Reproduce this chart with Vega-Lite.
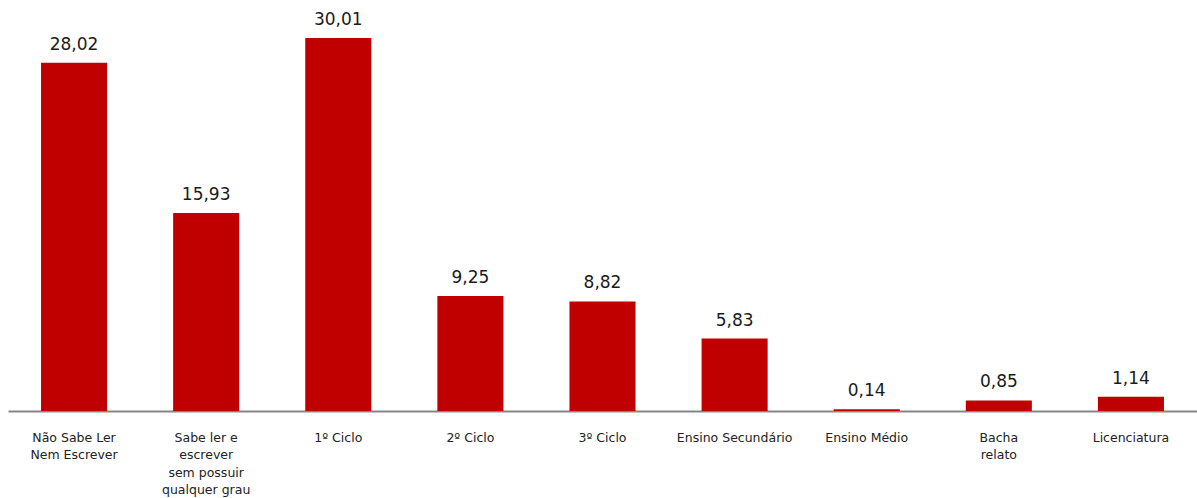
{
  "$schema": "https://vega.github.io/schema/vega-lite/v6.json",
  "width": 1189,
  "height": 411,
  "autosize": {"type": "none"},
  "padding": {"left": 8, "top": 0, "right": 0, "bottom": 87},
  "config": {
    "view": {"stroke": null},
    "locale": {"number": {"decimal": ",", "thousands": ".", "grouping": [3], "currency": ["", " €"]}}
  },
  "data": {
    "values": [
      {"cat": "Não Sabe Ler\nNem Escrever", "value": 28.02},
      {"cat": "Sabe ler e\nescrever\nsem possuir\nqualquer grau", "value": 15.93},
      {"cat": "1º Ciclo", "value": 30.01},
      {"cat": "2º Ciclo", "value": 9.25},
      {"cat": "3º Ciclo", "value": 8.82},
      {"cat": "Ensino Secundário", "value": 5.83},
      {"cat": "Ensino Médio", "value": 0.14},
      {"cat": "Bacha\nrelato", "value": 0.85},
      {"cat": "Licenciatura", "value": 1.14}
    ]
  },
  "encoding": {
    "x": {
      "field": "cat",
      "type": "nominal",
      "sort": null,
      "scale": {"paddingInner": 0.5, "paddingOuter": 0.25},
      "axis": {
        "title": null,
        "labelAngle": 0,
        "ticks": false,
        "labelExpr": "split(datum.label, '\\n')",
        "labelFont": "DejaVu Sans",
        "labelFontSize": 12.5,
        "labelColor": "#222222",
        "labelPadding": 20,
        "labelLineHeight": 17.5,
        "labelLimit": 200,
        "domainColor": "#868686",
        "domainWidth": 2
      }
    },
    "y": {
      "field": "value",
      "type": "quantitative",
      "scale": {"domain": [0, 33.07]},
      "axis": null
    }
  },
  "layer": [
    {"mark": {"type": "bar", "color": "#C00000"}},
    {
      "mark": {"type": "text", "baseline": "bottom", "dy": -9, "font": "DejaVu Sans", "fontSize": 17, "color": "#1a1a1a"},
      "encoding": {"text": {"field": "value", "type": "quantitative", "format": ".2f"}}
    }
  ]
}
